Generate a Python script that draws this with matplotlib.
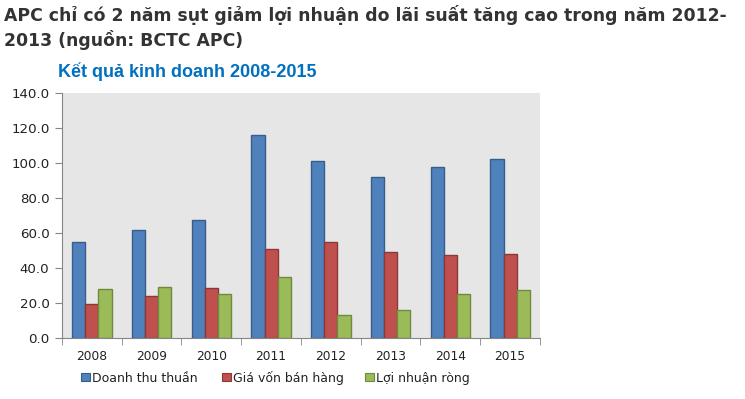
import matplotlib.pyplot as plt
import numpy as np
from matplotlib.patches import Rectangle

# du lieu doc tu bieu do (ty dong)
nam = ['2008', '2009', '2010', '2011', '2012', '2013', '2014', '2015']
doanh_thu = [54.7, 61.5, 67.2, 115.8, 101.0, 91.8, 97.5, 102.1]
gia_von = [19.3, 23.8, 28.4, 50.7, 54.7, 49.0, 47.3, 47.8]
loi_nhuan = [27.8, 29.0, 25.0, 34.7, 13.0, 15.8, 25.0, 27.3]
ten_series = ['Doanh thu thuần', 'Giá vốn bán hàng', 'Lợi nhuận ròng']

mau = ['#4F81BD', '#C0504D', '#9BBB59']
vien = ['#385D8A', '#8C3836', '#71893F']

W, H = 745, 399
fig = plt.figure(figsize=(W / 100, H / 100), dpi=100)
ax = fig.add_axes([0.0832, 0.1529, 0.6416, 0.614])
ax.set_facecolor('#E6E6E6')

x = np.arange(len(nam))
w = 0.22
for i, vals in enumerate([doanh_thu, gia_von, loi_nhuan]):
    ax.bar(x + (i - 1) * w, vals, w, color=mau[i], edgecolor=vien[i], linewidth=1, label=ten_series[i])

ax.set_xlim(-0.5, len(nam) - 0.5)
ax.set_ylim(0, 140)
ax.set_yticks(np.arange(0, 141, 20))
ax.set_yticklabels([f'{v:.1f}' for v in np.arange(0, 141, 20)])
ax.set_xticks(x)
ax.set_xticklabels(nam)
ax.set_xticks(np.arange(-0.5, len(nam), 1), minor=True)
ax.tick_params(axis='x', which='major', length=0, pad=9, labelsize=8.8, labelcolor='#222222')
ax.tick_params(axis='x', which='minor', length=5, color='#868686', direction='out')
ax.tick_params(axis='y', length=5, color='#868686', labelsize=9.6, labelcolor='#222222', pad=4)
for s in ['top', 'right']:
    ax.spines[s].set_visible(False)
for s in ['left', 'bottom']:
    ax.spines[s].set_color('#868686')

# chu thich ve tay (pixel)
vi_tri_x = [81, 222, 365]
for i in range(3):
    x0 = vi_tri_x[i]
    fig.patches.append(Rectangle((x0 / W, 1 - 381 / H), 9 / W, 8 / H, transform=fig.transFigure,
                                 facecolor=mau[i], edgecolor=vien[i], linewidth=0.8))
    fig.text((x0 + 11) / W, 1 - 382 / H, ten_series[i], fontsize=9, color='#222222', va='baseline')

fig.text(0.006, 0.962, 'APC chỉ có 2 năm sụt giảm lợi nhuận do lãi suất tăng cao trong năm 2012-',
         fontsize=12.45, fontweight='bold', color='#333333', va='center')
fig.text(0.006, 0.9, '2013 (nguồn: BCTC APC)',
         fontsize=12.45, fontweight='bold', color='#333333', va='center')
fig.text(0.251, 0.82, 'Kết quả kinh doanh 2008-2015', fontsize=13, fontweight='bold',
         color='#0070C0', ha='center', va='center',
         family=['Liberation Sans Narrow', 'Liberation Sans', 'DejaVu Sans'])

fig.savefig('out.png', dpi=100)
